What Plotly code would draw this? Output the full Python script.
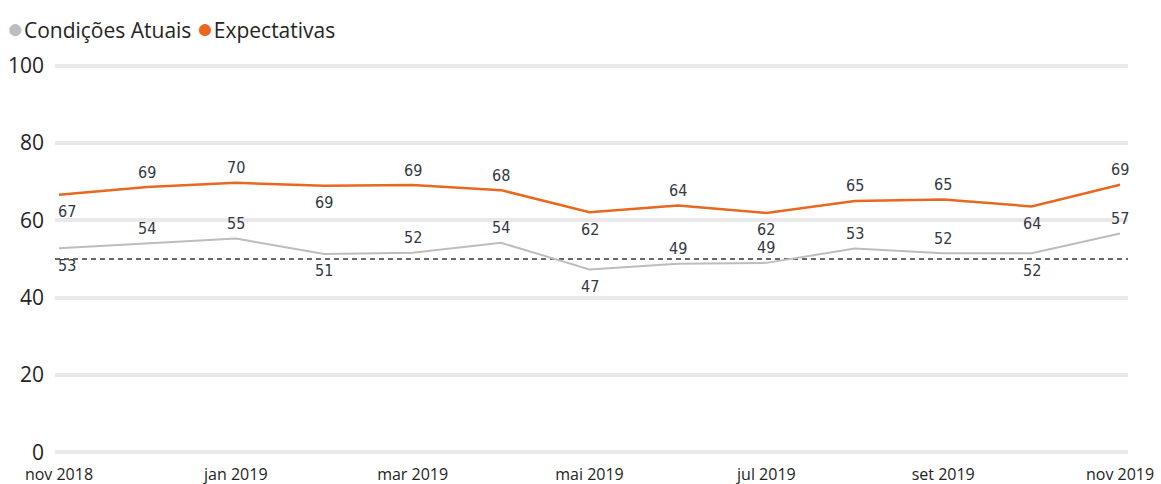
import plotly.graph_objects as go

# Meses (nov 2018 - nov 2019)
months = ["nov 2018", "dez 2018", "jan 2019", "fev 2019", "mar 2019", "abr 2019", "mai 2019",
          "jun 2019", "jul 2019", "ago 2019", "set 2019", "out 2019", "nov 2019"]
tick_months = ["nov 2018", "jan 2019", "mar 2019", "mai 2019", "jul 2019", "set 2019", "nov 2019"]

# Índices
expectativas = [66.6, 68.6, 69.7, 68.9, 69.1, 67.8, 62.1, 63.8, 61.9, 65.0, 65.4, 63.6, 69.2]
condicoes_atuais = [52.8, 54.1, 55.3, 51.3, 51.6, 54.2, 47.3, 48.8, 49.0, 52.7, 51.5, 51.5, 56.6]

# linha de referência (neutro)
neutral = 50

# posição do rótulo: 1 = acima, -1 = abaixo
side_exp = [-1, 1, 1, -1, 1, 1, -1, 1, -1, 1, 1, -1, 1]
side_cond = [-1, 1, 1, -1, 1, 1, -1, 1, 1, 1, 1, -1, 1]

orange = "#E8681E"
gray = "#BDBDBD"
label_font = dict(family="DejaVu Sans Condensed", size=16, color="#333842")

fig = go.Figure()

fig.add_hline(y=neutral, line=dict(color="#666666", width=2, dash="5px,4px"), layer="below")

fig.add_trace(go.Scatter(
    x=months, y=condicoes_atuais, name="Condições Atuais",
    mode="lines", line=dict(color=gray, width=2), showlegend=False,
))
fig.add_trace(go.Scatter(
    x=months, y=expectativas, name="Expectativas",
    mode="lines", line=dict(color=orange, width=2.5), showlegend=False,
))

# rótulos de dados
for series, sides in [(condicoes_atuais, side_cond), (expectativas, side_exp)]:
    for i, (m, v, s) in enumerate(zip(months, series, sides)):
        fig.add_annotation(
            x=m, y=v, text=f"{v:.0f}", showarrow=False,
            yshift=15 if s > 0 else -17, xshift=8 if i == 0 else 0,
            font=label_font,
        )

# legenda manual
fig.add_annotation(
    xref="paper", yref="paper", x=-0.047, y=1.095, xanchor="left", yanchor="middle",
    showarrow=False,
    text=(f"<span style='color:{gray};font-size:28px'>●</span>Condições Atuais "
          f"<span style='color:{orange};font-size:28px'>●</span>Expectativas"),
    font=dict(family="Open Sans", size=21, color="#252423"),
)

fig.update_layout(
    width=1161, height=484,
    margin=dict(l=55, r=33, t=64, b=30),
    paper_bgcolor="white", plot_bgcolor="white",
    xaxis=dict(
        type="category", categoryorder="array", categoryarray=months,
        tickvals=tick_months, ticktext=tick_months,
        range=[-0.045, 12.09], showgrid=False, zeroline=False, ticks="",
        tickfont=dict(family="Open Sans", size=16, color="#252423"),
        ticklabelstandoff=9, automargin=False,
    ),
    yaxis=dict(
        range=[-0.4, 100.4], tickvals=[0, 20, 40, 60, 80, 100],
        showgrid=True, gridcolor="#E9E9E9", gridwidth=3.5, zeroline=False,
        tickfont=dict(family="Open Sans", size=21, color="#252423"),
        ticks="", ticklabelstandoff=10, automargin=False,
    ),
)

fig.write_html("out.html", config={"displayModeBar": False},
               post_script="document.body.style.margin='0';")
